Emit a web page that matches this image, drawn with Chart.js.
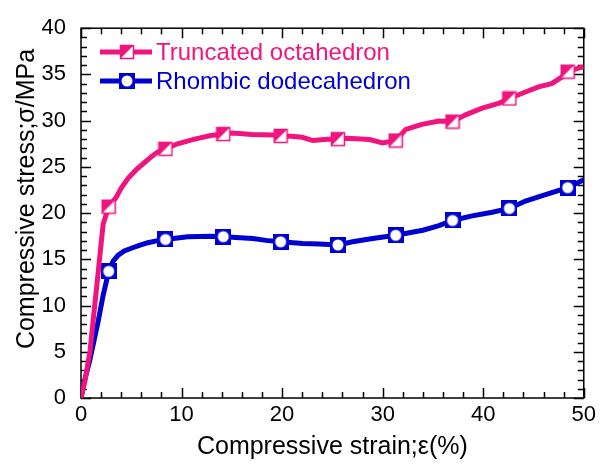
<!DOCTYPE html>
<html>
<head>
<meta charset="utf-8">
<script src="https://cdn.jsdelivr.net/npm/chart.js@4.4.0/dist/chart.umd.min.js"></script>
<style>
  html, body { margin: 0; padding: 0; background: #fff; }
  #wrap { width: 600px; height: 469px; }
</style>
</head>
<body>
<div id="wrap"><canvas id="stressChart" width="600" height="469"></canvas></div>
<script>
// ---- stress / strain curves ----
const octaStrain = [0, 0.4, 0.9, 1.2, 1.7, 2.2, 3.5, 4.0, 4.7, 5.5, 6.35, 7.0, 7.6, 9.6, 11.3, 12.9, 15.1, 17.0, 19.1, 20.9, 22.0, 23.05, 24.5, 26.5, 28.7, 30.0, 32.3, 33.9, 35.6, 38.3, 39.9, 41.6, 44.2, 45.5, 46.8, 47.8, 49.7, 50];
const octaStress = [0, 1.9, 5.1, 8.3, 13.5, 18.8, 21.7, 22.7, 23.8, 24.7, 25.5, 26.1, 26.6, 27.5, 28.0, 28.4, 28.65, 28.5, 28.45, 28.3, 28.2, 27.85, 28.0, 28.1, 27.95, 27.6, 29.05, 29.6, 29.95, 30.65, 31.35, 31.9, 33.1, 33.65, 34.0, 34.7, 35.75, 35.8];

const dodecaStrain = [0, 0.36, 0.86, 1.7, 2.2, 2.5, 3.2, 3.7, 4.3, 5.0, 5.8, 6.65, 7.5, 10.6, 12.9, 17.1, 18.4, 22.05, 23.7, 27.0, 29.0, 34.0, 35.6, 38.9, 40.9, 44.2, 46.2, 50];
const dodecaStress = [0, 1.9, 4.0, 8.25, 11.1, 12.5, 14.8, 15.45, 15.9, 16.2, 16.5, 16.8, 17.0, 17.45, 17.5, 17.25, 17.05, 16.7, 16.65, 16.9, 17.25, 18.15, 18.65, 19.7, 20.1, 21.3, 22.0, 23.6];

// symbol positions along each curve
const markerStrain = [2.75, 8.4, 14.15, 19.85, 25.55, 31.3, 36.95, 42.6, 48.4];
const octaMarkerStress = [20.7, 26.95, 28.55, 28.35, 28.0, 27.85, 29.9, 32.4, 35.3];
const dodecaMarkerStress = [13.7, 17.15, 17.45, 16.9, 16.55, 17.6, 19.2, 20.5, 22.75];

const seriesNames = ['Truncated octahedron', 'Rhombic dodecahedron'];
const xTitle = 'Compressive strain;ε(%)';
const yTitle = 'Compressive stress;σ/MPa';
const PINK = '#F0147F';
const BLUE = '#0000D0';
const FONT = "'Liberation Sans', Arial, sans-serif";

// curve points + symbol points, sorted by strain
function buildCurve(xs, ys, mx, my) {
    const pts = xs.map((x, i) => ({ x: x, y: ys[i], mark: false }));
    mx.forEach((x, i) => pts.push({ x: x, y: my[i], mark: true }));
    pts.sort((a, b) => a.x - b.x);
    return pts;
}

// half-filled square symbol
function octaSymbol() {
    const c = document.createElement('canvas');
    c.width = 16; c.height = 16;
    const g = c.getContext('2d');
    g.fillStyle = '#fff';
    g.fillRect(1, 1, 14, 14);
    g.fillStyle = PINK;
    g.beginPath();
    g.moveTo(1, 1); g.lineTo(15, 1); g.lineTo(1, 15);
    g.closePath();
    g.fill();
    g.strokeStyle = PINK;
    g.lineWidth = 1.5;
    g.strokeRect(1.5, 1.5, 13, 13);
    return c;
}

// square with open circle
function dodecaSymbol() {
    const c = document.createElement('canvas');
    c.width = 16; c.height = 16;
    const g = c.getContext('2d');
    g.fillStyle = BLUE;
    g.fillRect(0, 0, 16, 16);
    g.fillStyle = '#fff';
    g.beginPath();
    g.arc(8, 8, 5.5, 0, Math.PI * 2);
    g.fill();
    return c;
}

const symbols = [octaSymbol(), dodecaSymbol()];
const colors = [PINK, BLUE];

// box frame with inward ticks on all four sides
const frameTicks = {
    id: 'frameTicks',
    beforeDatasetsDraw(chart) {
        const { ctx, chartArea: a, scales: { x, y } } = chart;
        ctx.save();
        ctx.strokeStyle = '#000';
        ctx.lineWidth = 1.5;
        ctx.strokeRect(a.left, a.top, a.right - a.left, a.bottom - a.top);
        ctx.beginPath();
        for (let v = x.min; v <= x.max; v += 2) {
            const px = Math.round(x.getPixelForValue(v)) + 0.5;
            const len = v % 10 === 0 ? 10 : 6;
            ctx.moveTo(px, a.bottom); ctx.lineTo(px, a.bottom - len);
            ctx.moveTo(px, a.top); ctx.lineTo(px, a.top + len);
        }
        for (let v = y.min; v <= y.max; v += 1) {
            const py = Math.round(y.getPixelForValue(v)) + 0.5;
            const len = v % 5 === 0 ? 10 : 6;
            ctx.moveTo(a.left, py); ctx.lineTo(a.left + len, py);
            ctx.moveTo(a.right, py); ctx.lineTo(a.right - len, py);
        }
        ctx.stroke();
        ctx.restore();
    },
    afterDraw(chart) {
        const { ctx } = chart;
        ctx.save();
        // y axis title, rotated
        ctx.fillStyle = '#000';
        ctx.font = '25px ' + FONT;
        ctx.textAlign = 'center';
        ctx.textBaseline = 'middle';
        ctx.translate(27, 199);
        ctx.rotate(-Math.PI / 2);
        ctx.fillText(yTitle, 0, 0);
        ctx.restore();

        // legend: line segment with the symbol in the middle
        const rows = [52, 81];
        ctx.save();
        ctx.font = '24px ' + FONT;
        ctx.textBaseline = 'middle';
        rows.forEach((ry, i) => {
            ctx.strokeStyle = colors[i];
            ctx.lineWidth = 5;
            ctx.beginPath();
            ctx.moveTo(100, ry); ctx.lineTo(152, ry);
            ctx.stroke();
            ctx.drawImage(symbols[i], 127 - 8, ry - 8);
            ctx.fillStyle = colors[i];
            ctx.fillText(seriesNames[i], 156, ry + 1);
        });
        ctx.restore();
    }
};

const ctx = document.getElementById('stressChart').getContext('2d');
new Chart(ctx, {
    type: 'line',
    data: {
        datasets: [
            {
                label: seriesNames[0],
                data: buildCurve(octaStrain, octaStress, markerStrain, octaMarkerStress),
                borderColor: PINK,
                borderWidth: 5,
                tension: 0,
                pointStyle: symbols[0],
                pointRadius: c => (c.raw && c.raw.mark ? 8 : 0),
                pointHoverRadius: c => (c.raw && c.raw.mark ? 8 : 0)
            },
            {
                label: seriesNames[1],
                data: buildCurve(dodecaStrain, dodecaStress, markerStrain, dodecaMarkerStress),
                borderColor: BLUE,
                borderWidth: 5,
                tension: 0,
                pointStyle: symbols[1],
                pointRadius: c => (c.raw && c.raw.mark ? 8 : 0),
                pointHoverRadius: c => (c.raw && c.raw.mark ? 8 : 0)
            }
        ]
    },
    options: {
        responsive: false,
        animation: false,
        devicePixelRatio: 1,
        layout: { padding: { top: 20, right: 15, left: 0, bottom: 0 } },
        plugins: { legend: { display: false }, tooltip: { enabled: false } },
        scales: {
            x: {
                type: 'linear',
                min: 0, max: 50,
                afterFit: s => { s.height = 71; },
                grid: { display: false, drawTicks: false },
                border: { display: false },
                ticks: { stepSize: 10, padding: 4, color: '#000', font: { family: FONT, size: 22 } },
                title: {
                    display: true,
                    text: xTitle,
                    color: '#000',
                    font: { family: FONT, size: 25 },
                    padding: { top: 0, bottom: 7 }
                }
            },
            y: {
                min: 0, max: 40,
                afterFit: s => { s.width = 81; },
                grid: { display: false, drawTicks: false },
                border: { display: false },
                ticks: { stepSize: 5, padding: 15, color: '#000', font: { family: FONT, size: 22 } }
            }
        }
    },
    plugins: [frameTicks]
});
</script>
</body>
</html>
